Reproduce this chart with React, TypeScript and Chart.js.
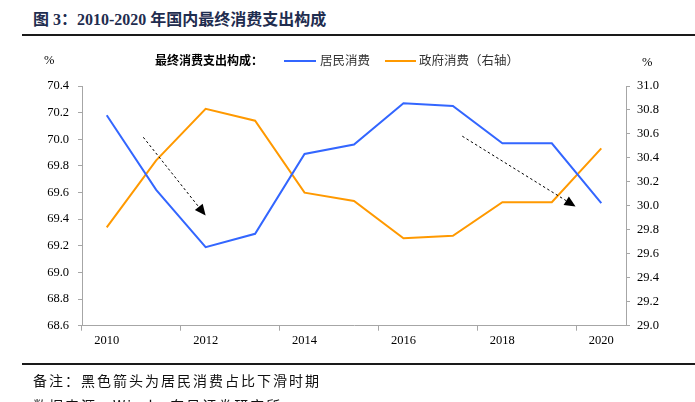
import React, { useEffect, useRef } from 'react';
import { Chart, registerables } from 'chart.js';

Chart.register(...registerables);

const YEARS = ['2010', '2011', '2012', '2013', '2014', '2015', '2016', '2017', '2018', '2019', '2020'];
const HOUSEHOLD = [70.18, 69.62, 69.19, 69.29, 69.89, 69.96, 70.27, 70.25, 69.97, 69.97, 69.52];
const GOVERNMENT = [29.82, 30.38, 30.81, 30.71, 30.11, 30.04, 29.73, 29.75, 30.03, 30.03, 30.48];
const LEFT_MIN = 68.6;
const LEFT_MAX = 70.4;
const RIGHT_MIN = 29.0;
const RIGHT_MAX = 31.0;
const TICK_STEP = 0.2;
const LABEL_HOUSEHOLD = '居民消费';
const LABEL_GOVERNMENT = '政府消费（右轴）';
// annotation arrows (x: category index, y: left-axis value)
const ARROWS = [
  { from: [0.74, 70.015], to: [2.0, 69.427] },
  { from: [7.19, 70.023], to: [9.48, 69.495] },
];

const BLUE = '#3366FF';
const ORANGE = '#FF9900';
const AXIS_GRAY = '#A6A6A6';
const SERIF = "'Liberation Serif', 'Times New Roman', serif";
const CJK = "'Noto Sans CJK SC', 'Noto Sans', sans-serif";

const arrowPlugin = {
  id: 'arrows',
  afterDatasetsDraw(chart: any) {
    const ctx = chart.ctx;
    const xs = chart.scales.x;
    const ys = chart.scales.y;
    ctx.save();
    ARROWS.forEach((a) => {
      const x1 = xs.getPixelForValue(a.from[0]);
      const y1 = ys.getPixelForValue(a.from[1]);
      const x2 = xs.getPixelForValue(a.to[0]);
      const y2 = ys.getPixelForValue(a.to[1]);
      const ang = Math.atan2(y2 - y1, x2 - x1);
      const len = 11;
      const hw = 5;
      const bx = x2 - len * Math.cos(ang);
      const by = y2 - len * Math.sin(ang);
      ctx.strokeStyle = '#000';
      ctx.lineWidth = 1;
      ctx.setLineDash([2.5, 2.5]);
      ctx.beginPath();
      ctx.moveTo(x1, y1);
      ctx.lineTo(bx, by);
      ctx.stroke();
      ctx.setLineDash([]);
      ctx.fillStyle = '#000';
      ctx.beginPath();
      ctx.moveTo(x2, y2);
      ctx.lineTo(bx + hw * Math.sin(ang), by - hw * Math.cos(ang));
      ctx.lineTo(bx - hw * Math.sin(ang), by + hw * Math.cos(ang));
      ctx.closePath();
      ctx.fill();
    });
    ctx.restore();
  },
};

export default function App() {
  const ref = useRef<HTMLCanvasElement | null>(null);

  useEffect(() => {
    if (!ref.current) return;
    const chart = new Chart(ref.current, {
      type: 'line',
      data: {
        labels: YEARS,
        datasets: [
          {
            label: LABEL_HOUSEHOLD,
            data: HOUSEHOLD,
            borderColor: BLUE,
            backgroundColor: BLUE,
            borderWidth: 2,
            pointRadius: 0,
            tension: 0,
            yAxisID: 'y',
          },
          {
            label: LABEL_GOVERNMENT,
            data: GOVERNMENT,
            borderColor: ORANGE,
            backgroundColor: ORANGE,
            borderWidth: 2,
            pointRadius: 0,
            tension: 0,
            yAxisID: 'y1',
          },
        ],
      },
      options: {
        responsive: false,
        maintainAspectRatio: false,
        animation: false,
        layout: { padding: { top: 86, left: 0, right: 0, bottom: 0 } },
        plugins: {
          legend: { display: false },
          tooltip: { enabled: false },
          title: { display: false },
        },
        scales: {
          x: {
            type: 'category',
            offset: true,
            afterFit: (s: any) => {
              s.height = 76.3;
            },
            border: { color: AXIS_GRAY, width: 1 },
            grid: {
              offset: true,
              drawOnChartArea: false,
              tickLength: 5,
              color: (c: any) => (c.index % 2 === 0 ? AXIS_GRAY : 'rgba(0,0,0,0)'),
            },
            ticks: {
              autoSkip: false,
              maxRotation: 0,
              padding: 3,
              color: '#000',
              font: { family: SERIF, size: 12.5 },
              callback: (v: any, i: number) => (i % 2 === 0 ? YEARS[i] : ''),
            },
          },
          y: {
            position: 'left',
            min: LEFT_MIN,
            max: LEFT_MAX,
            afterFit: (s: any) => {
              s.width = 82;
            },
            border: { color: AXIS_GRAY, width: 1 },
            grid: { drawOnChartArea: false, tickLength: 4, color: AXIS_GRAY },
            ticks: {
              stepSize: TICK_STEP,
              padding: 9,
              color: '#000',
              font: { family: SERIF, size: 12.5 },
              callback: (v: any) => Number(v).toFixed(1),
            },
          },
          y1: {
            position: 'right',
            min: RIGHT_MIN,
            max: RIGHT_MAX,
            afterFit: (s: any) => {
              s.width = 69;
            },
            border: { color: AXIS_GRAY, width: 1 },
            grid: { drawOnChartArea: false, tickLength: 4, color: AXIS_GRAY },
            ticks: {
              stepSize: TICK_STEP,
              padding: 7,
              color: '#000',
              font: { family: SERIF, size: 12.5 },
              callback: (v: any) => Number(v).toFixed(1),
            },
          },
        },
      } as any,
      plugins: [arrowPlugin],
    });
    return () => chart.destroy();
  }, []);

  const abs = (style: React.CSSProperties): React.CSSProperties => ({ position: 'absolute', whiteSpace: 'nowrap', ...style });

  return (
    <div style={{ position: 'absolute', left: 0, top: 0, width: 695, height: 402, overflow: 'hidden', background: '#fff' }}>
      <div
        style={abs({
          left: 33,
          top: 10,
          fontFamily: `${SERIF.split(',')[0]}, ${CJK}`,
          fontWeight: 'bold',
          fontSize: 16,
          color: '#1F2D4F',
          lineHeight: '20px',
        })}
      >
        图 3：2010-2020 年国内最终消费支出构成
      </div>
      <div style={abs({ left: 22, top: 34, width: 673, height: 2, background: '#1a1a1a' })} />
      <canvas ref={ref} width={695} height={402} style={{ position: 'absolute', left: 0, top: 0 }} />
      <div style={abs({ left: 44, top: 52, fontFamily: SERIF, fontSize: 12.5, lineHeight: '16px', color: '#000' })}>%</div>
      <div style={abs({ left: 642, top: 54, fontFamily: SERIF, fontSize: 12.5, lineHeight: '16px', color: '#000' })}>%</div>
      <div style={abs({ left: 155, top: 52, fontFamily: CJK, fontSize: 12, fontWeight: 'bold', lineHeight: '16px', color: '#000' })}>
        最终消费支出构成：
      </div>
      <div style={abs({ left: 284, top: 60, width: 32, height: 2, background: BLUE })} />
      <div style={abs({ left: 320, top: 52, fontFamily: CJK, fontSize: 12.5, lineHeight: '16px', color: '#333' })}>
        {LABEL_HOUSEHOLD}
      </div>
      <div style={abs({ left: 385, top: 60, width: 31, height: 2, background: ORANGE })} />
      <div style={abs({ left: 419, top: 52, fontFamily: CJK, fontSize: 12.5, lineHeight: '16px', color: '#333' })}>
        {LABEL_GOVERNMENT}
      </div>
      <div style={abs({ left: 22, top: 363, width: 673, height: 1.5, background: '#1a1a1a' })} />
      <div style={abs({ left: 33, top: 370, fontFamily: CJK, fontSize: 14, letterSpacing: 2, lineHeight: '20px', color: '#111' })}>
        备注：黑色箭头为居民消费占比下滑时期
      </div>
      <div style={abs({ left: 33, top: 395, fontFamily: CJK, fontSize: 14, letterSpacing: 2, lineHeight: '20px', color: '#111' })}>
        数据来源：Wind，东吴证券研究所
      </div>
    </div>
  );
}
